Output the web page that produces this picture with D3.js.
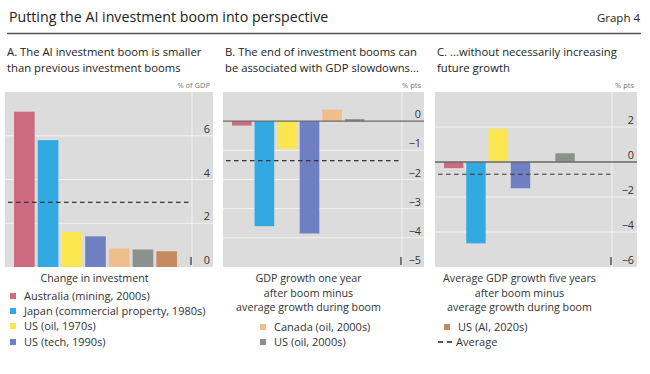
<!DOCTYPE html>
<html>
<head>
<meta charset="utf-8">
<script src="https://cdn.jsdelivr.net/npm/d3@7"></script>
<style>
  body { margin: 0; background: #fff; }
  svg { font-family: 'Open Sans', 'Noto Sans', sans-serif; }
</style>
</head>
<body>
<svg width="650" height="374"></svg>
<script>
// data
const booms = ['Australia (mining, 2000s)', 'Japan (commercial property, 1980s)', 'US (oil, 1970s)',
  'US (tech, 1990s)', 'Canada (oil, 2000s)', 'US (oil, 2000s)', 'US (AI, 2020s)']
const colors = ['#cc6b7f', '#33a9e1', '#fbe64f', '#6f80c2', '#eebf8c', '#8b918b', '#c58a62']
const investChange = [7.1, 5.8, 1.6, 1.4, 0.85, 0.8, 0.72]
const gdpOneYear = [-0.15, -3.6, -0.95, -3.85, 0.4, 0.07, null]
const gdpFiveYear = [-0.35, -4.65, 1.9, -1.5, 0.05, 0.5, null]
const averages = [2.95, -1.35, -0.7]

const ticksA = [0, 2, 4, 6]
const ticksB = [-5, -4, -3, -2, -1, 0]
const ticksC = [-6, -4, -2, 0, 2]

const svg = d3.select('svg')
const plotTop = 92, plotBottom = 267

svg.append('text')
  .attr('x', 9).attr('y', 22)
  .attr('font-size', 14.2).attr('fill', '#222')
  .text('Putting the AI investment boom into perspective')
svg.append('text')
  .attr('x', 640).attr('y', 22)
  .attr('text-anchor', 'end')
  .attr('font-size', 11.5).attr('fill', '#222')
  .text('Graph 4')
svg.append('line')
  .attr('x1', 7).attr('x2', 641).attr('y1', 33.5).attr('y2', 33.5)
  .attr('stroke', '#555').attr('stroke-width', 1.5)

const panels = [
  { x0: 5, x1: 213, plotRight: 192, values: investChange, domain: [0, 8], ticks: ticksA, unit: '% of GDP',
    title: ['A. The AI investment boom is smaller', 'than previous investment booms'],
    xlabel: ['Change in investment'], zero: false },
  { x0: 223, x1: 424, plotRight: 402, values: gdpOneYear, domain: [-5, 1], ticks: ticksB, unit: '% pts',
    title: ['B. The end of investment booms can', 'be associated with GDP slowdowns...'],
    xlabel: ['GDP growth one year', 'after boom minus', 'average growth during boom'], zero: true },
  { x0: 435, x1: 637, plotRight: 612, values: gdpFiveYear, domain: [-6, 4], ticks: ticksC, unit: '% pts',
    title: ['C. ...without necessarily increasing', 'future growth'],
    xlabel: ['Average GDP growth five years', 'after boom minus', 'average growth during boom'], zero: true }
]

panels.forEach((p, pi) => {
  const g = svg.append('g')

  g.selectAll('.ptitle').data(p.title).join('text')
    .attr('x', p.x0 + 2).attr('y', (d, i) => 56 + i * 16)
    .attr('font-size', 11.3).attr('fill', '#222')
    .text(d => d)

  g.append('text')
    .attr('x', p.x1 - 3).attr('y', 88)
    .attr('text-anchor', 'end')
    .attr('font-size', 7.5).attr('fill', '#777')
    .text(p.unit)

  g.append('rect')
    .attr('x', p.x0).attr('y', plotTop)
    .attr('width', p.x1 - p.x0).attr('height', plotBottom - plotTop)
    .attr('fill', '#dcdcdc')

  const y = d3.scaleLinear().domain(p.domain).range([plotBottom, plotTop])
  const x = d3.scaleBand().domain(booms)
    .range([p.x0 + 9, p.plotRight - 15])
    .paddingInner(0.13)

  // gridlines
  g.selectAll('.grid').data(p.ticks.filter(t => t !== 0 && t !== p.domain[0])).join('line')
    .attr('x1', p.x0).attr('x2', p.x1)
    .attr('y1', d => y(d)).attr('y2', d => y(d))
    .attr('stroke', '#f2f2f2').attr('stroke-width', 1)

  g.append('line')
    .attr('x1', p.plotRight).attr('x2', p.plotRight)
    .attr('y1', plotTop).attr('y2', plotBottom)
    .attr('stroke', '#f2f2f2').attr('stroke-width', 1)

  // bars
  g.selectAll('.bar').data(booms.map((b, i) => ({ b, v: p.values[i], c: colors[i] })).filter(d => d.v !== null))
    .join('rect')
    .attr('x', d => x(d.b))
    .attr('width', x.bandwidth())
    .attr('y', d => y(Math.max(0, d.v)))
    .attr('height', d => Math.abs(y(d.v) - y(0)))
    .attr('fill', d => d.c)

  if (p.zero) {
    g.append('line')
      .attr('x1', p.x0).attr('x2', p.x1)
      .attr('y1', y(0)).attr('y2', y(0))
      .attr('stroke', '#6a6a6a').attr('stroke-width', 1.3)
  }

  // average
  g.append('line')
    .attr('x1', p.x0 + 3).attr('x2', p.plotRight)
    .attr('y1', y(averages[pi])).attr('y2', y(averages[pi]))
    .attr('stroke', '#333').attr('stroke-width', 1.2)
    .attr('stroke-dasharray', '4.5,3.5')

  // small marker at the bottom of the plot
  g.append('line')
    .attr('x1', p.plotRight - 1).attr('x2', p.plotRight - 1)
    .attr('y1', plotBottom - 10).attr('y2', plotBottom - 2)
    .attr('stroke', '#333').attr('stroke-width', 1.2)

  const axis = g.append('g')
    .attr('transform', `translate(${p.x1 - 3},0)`)
    .call(d3.axisLeft(y).tickValues(p.ticks).tickFormat(d3.format('d')).tickSize(0).tickPadding(0))
  axis.select('.domain').remove()
  axis.selectAll('text')
    .attr('font-family', "'Open Sans', 'Noto Sans', sans-serif")
    .attr('font-size', 10.8).attr('fill', '#333')
    .attr('dy', -3.4)

  g.selectAll('.xlab').data(p.xlabel).join('text')
    .attr('x', (p.x0 + p.plotRight) / 2 - 4).attr('y', (d, i) => 282 + i * 14.5)
    .attr('text-anchor', 'middle')
    .attr('font-size', 10.7).attr('fill', '#333')
    .text(d => d)
})

// legend
const legendItems = [
  { i: 0, x: 10, y: 296 }, { i: 1, x: 10, y: 311 }, { i: 2, x: 10, y: 326 }, { i: 3, x: 10, y: 342 },
  { i: 4, x: 260, y: 327 }, { i: 5, x: 260, y: 342 }, { i: 6, x: 444, y: 327 }
]
const leg = svg.append('g')
leg.selectAll('rect').data(legendItems).join('rect')
  .attr('x', d => d.x).attr('y', d => d.y - 3)
  .attr('width', 6).attr('height', 6)
  .attr('fill', d => colors[d.i])
leg.selectAll('text').data(legendItems).join('text')
  .attr('x', d => d.x + 14).attr('y', d => d.y + 4)
  .attr('font-size', 11).attr('fill', '#333')
  .text(d => booms[d.i])

leg.append('line')
  .attr('x1', 438).attr('x2', 452).attr('y1', 342).attr('y2', 342)
  .attr('stroke', '#222').attr('stroke-width', 1.6)
  .attr('stroke-dasharray', '5,4')
leg.append('text')
  .attr('x', 456).attr('y', 346)
  .attr('font-size', 11).attr('fill', '#333')
  .text('Average')
</script>
</body>
</html>
